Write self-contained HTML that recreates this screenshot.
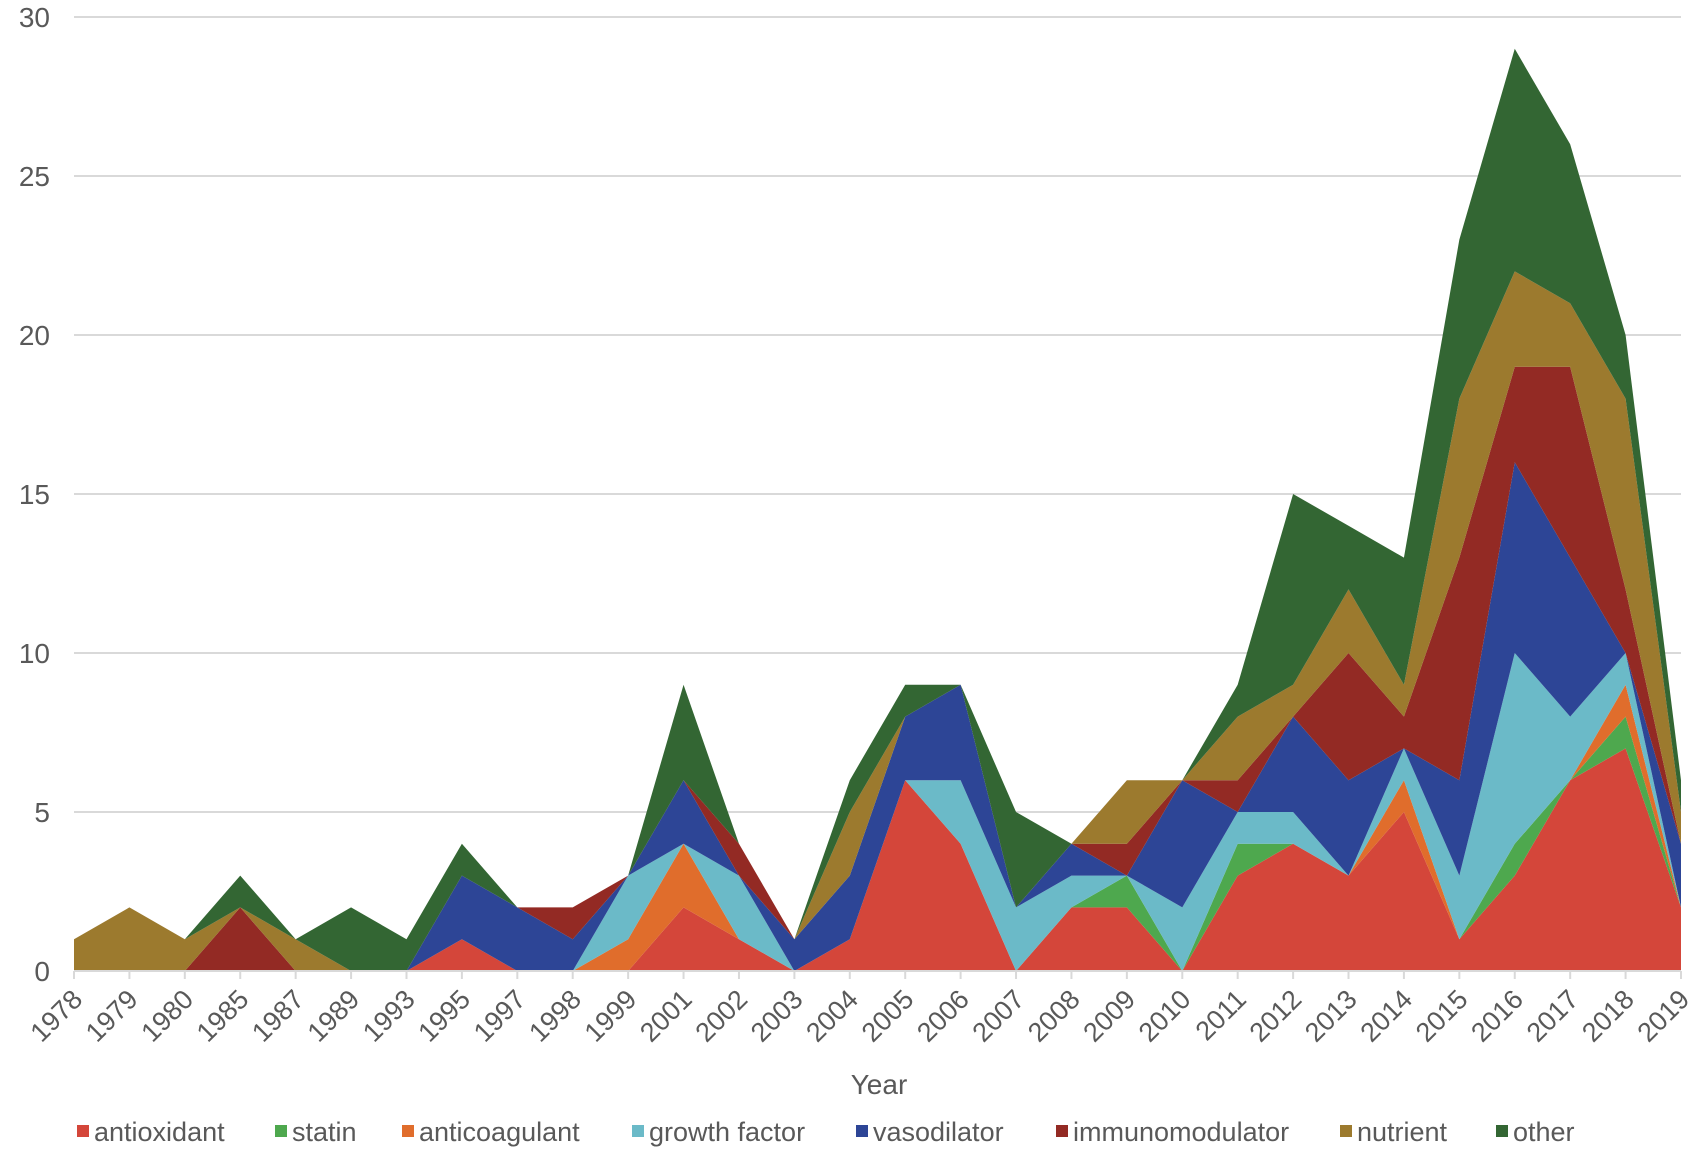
<!DOCTYPE html>
<html><head><meta charset="utf-8"><style>
body{margin:0;background:#fff;}
svg{display:block;font-family:"Liberation Sans",sans-serif;fill:#595959;}
</style></head><body>
<svg id="chart" width="1706" height="1157" viewBox="0 0 1706 1157"></svg>
<script>
const years=["1978","1979","1980","1985","1987","1989","1993","1995","1997","1998","1999","2001","2002","2003","2004","2005","2006","2007","2008","2009","2010","2011","2012","2013","2014","2015","2016","2017","2018","2019"];
const antioxidant=[0,0,0,0,0,0,0,1,0,0,0,2,1,0,1,6,4,0,2,2,0,3,4,3,5,1,3,6,7,2];
const statin=[0,0,0,0,0,0,0,0,0,0,0,0,0,0,0,0,0,0,0,1,0,1,0,0,0,0,1,0,1,0];
const anticoagulant=[0,0,0,0,0,0,0,0,0,0,1,2,0,0,0,0,0,0,0,0,0,0,0,0,1,0,0,0,1,0];
const growthFactor=[0,0,0,0,0,0,0,0,0,0,2,0,2,0,0,0,2,2,1,0,2,1,1,0,1,2,6,2,1,0];
const vasodilator=[0,0,0,0,0,0,0,2,2,1,0,2,0,1,2,2,3,0,1,0,4,0,3,3,0,3,6,5,0,2];
const immunomodulator=[0,0,0,2,0,0,0,0,0,1,0,0,1,0,0,0,0,0,0,1,0,1,0,4,1,7,3,6,2,0];
const nutrient=[1,2,1,0,1,0,0,0,0,0,0,0,0,0,2,0,0,0,0,2,0,2,1,2,1,5,3,2,6,1];
const other=[0,0,0,1,0,2,1,1,0,0,0,3,0,0,1,1,0,3,0,0,0,1,6,2,4,5,7,5,2,1];
const seriesNames=["antioxidant","statin","anticoagulant","growth factor","vasodilator","immunomodulator","nutrient","other"];
const seriesData=[antioxidant,statin,anticoagulant,growthFactor,vasodilator,immunomodulator,nutrient,other];
const colors=["#d4463a","#4ea84e","#e06d2c","#6bbac8","#2d4596","#932a24","#9c7a2e","#336633"];
const yTicks=[0,5,10,15,20,25,30];
const X0=74,X1=1681,Y0=971,Y30=17;
const xs=i=>X0+i*(X1-X0)/(years.length-1);
const ys=v=>Y0-v*(Y0-Y30)/30;
const svg=document.getElementById('chart');
const NS="http://www.w3.org/2000/svg";
function mk(t,a){const e=document.createElementNS(NS,t);for(const k in a)e.setAttribute(k,a[k]);svg.appendChild(e);return e;}
yTicks.forEach(v=>{
 const l=mk('line',{x1:X0,x2:X1,y1:ys(v),y2:ys(v),stroke:'#d9d9d9','stroke-width':2});
 
 
 const t=mk('text',{x:50,y:ys(v)+10,'text-anchor':'end','font-size':28});
 t.textContent=v;
 
 
});
let base=years.map(()=>0);
seriesData.forEach((s,k)=>{
 const top=base.map((b,i)=>b+s[i]);
 let d='M'+years.map((_,i)=>xs(i)+','+ys(top[i])).join('L');
 for(let i=years.length-1;i>=0;i--)d+='L'+xs(i)+','+ys(base[i]);
 d+='Z';
 const p=mk('path',{d:d,fill:colors[k]});
 
 
 base=top;
});
const ax=mk('line',{x1:X0,x2:X1,y1:Y0,y2:Y0,stroke:'#d9d9d9','stroke-width':2});


years.forEach((y,i)=>{
 const tk=mk('line',{x1:xs(i),x2:xs(i),y1:Y0,y2:Y0+8,stroke:'#d9d9d9','stroke-width':2});
 
 
 const ax_=xs(i)+10,ay=Y0+30;
 const t=mk('text',{x:ax_,y:ay,'text-anchor':'end','font-size':27,transform:'rotate(-45 '+ax_+' '+ay+')'});
 t.textContent=y;
 
 
});
const xt=mk('text',{x:879,y:1094,'text-anchor':'middle','font-size':28});
xt.textContent='Year';


const lx=[77,275,402,632,856,1056,1340,1496];
seriesNames.forEach((n,k)=>{
 const r=mk('rect',{x:lx[k],y:1125,width:12,height:12,fill:colors[k]});
 
 
 const t=mk('text',{x:lx[k]+17,y:1141,'font-size':27});
 t.textContent=n;
 
 
});
</script>
</body></html>
